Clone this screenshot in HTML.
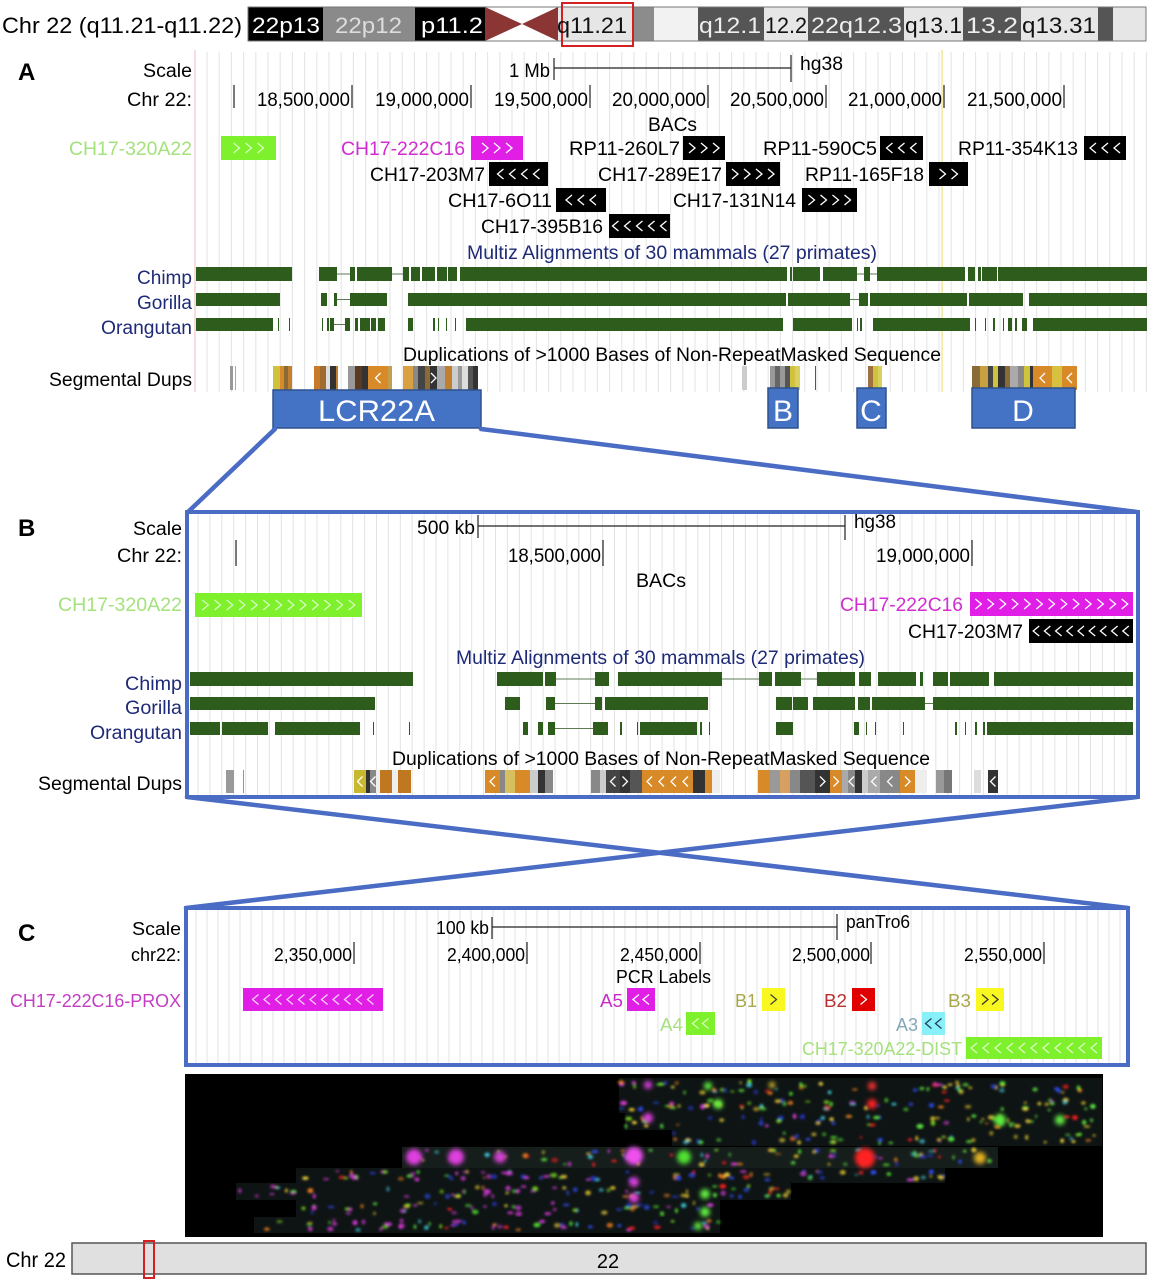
<!DOCTYPE html>
<html><head><meta charset="utf-8">
<style>
html,body{margin:0;padding:0;background:#fff;}
svg{display:block;font-family:"Liberation Sans",Arial,sans-serif;}
</style></head><body>
<svg id="s" width="1152" height="1280" viewBox="0 0 1152 1280" xmlns="http://www.w3.org/2000/svg">
<defs>
<filter id="blur" x="-50%" y="-50%" width="200%" height="200%"><feGaussianBlur stdDeviation="1.2"/></filter>
<filter id="blur2" x="-50%" y="-50%" width="200%" height="200%"><feGaussianBlur stdDeviation="2.5"/></filter>
</defs>
<rect x="0" y="0" width="1152" height="1280" fill="#fff"/>
<g id="grid"></g>
<g id="bars"></g>
<g id="boxes"></g>

<!-- Top ideogram -->
<g>
<rect x="248" y="7" width="898" height="34" fill="#e6e6e6"/>
<rect x="248" y="7" width="75" height="34" fill="#000"/>
<rect x="323" y="7" width="92" height="34" fill="#8a8a8a"/>
<rect x="415" y="7" width="70" height="34" fill="#000"/>
<rect x="485" y="7" width="73" height="34" fill="#fff"/>
<polygon points="485,7 485,41 522,24" fill="#8b3535"/>
<polygon points="558,7 558,41 522,24" fill="#8b3535"/>
<rect x="558" y="7" width="75" height="34" fill="#e6e6e6"/>
<rect x="633" y="7" width="21" height="34" fill="#8c8c8c"/>
<rect x="654" y="7" width="44" height="34" fill="#f2f2f2"/>
<rect x="698" y="7" width="66" height="34" fill="#555"/>
<rect x="764" y="7" width="44" height="34" fill="#e6e6e6"/>
<rect x="808" y="7" width="96" height="34" fill="#555"/>
<rect x="904" y="7" width="59" height="34" fill="#e6e6e6"/>
<rect x="963" y="7" width="58" height="34" fill="#555"/>
<rect x="1021" y="7" width="77" height="34" fill="#e6e6e6"/>
<rect x="1098" y="7" width="15" height="34" fill="#555"/>
<rect x="1113" y="7" width="33" height="34" fill="#e6e6e6"/>
<line x1="485" y1="7" x2="558" y2="7" stroke="#999" stroke-width="1"/>
<line x1="485" y1="41" x2="558" y2="41" stroke="#999" stroke-width="1"/>
<rect x="248" y="7" width="898" height="34" fill="none" stroke="#777" stroke-width="1"/>
<rect x="562" y="3" width="71" height="43" fill="none" stroke="#d42020" stroke-width="2"/>
<g font-size="22">
<text x="2" y="33" textLength="240" lengthAdjust="spacingAndGlyphs" fill="#000">Chr 22 (q11.21-q11.22)</text>
<text x="252" y="33" textLength="68" lengthAdjust="spacingAndGlyphs" fill="#fff">22p13</text>
<text x="335" y="33" textLength="67" lengthAdjust="spacingAndGlyphs" fill="#ddd">22p12</text>
<text x="421" y="33" textLength="62" lengthAdjust="spacingAndGlyphs" fill="#fff">p11.2</text>
<text x="557" y="33" textLength="70" lengthAdjust="spacingAndGlyphs" fill="#111">q11.21</text>
<text x="699" y="33" textLength="62" lengthAdjust="spacingAndGlyphs" fill="#eee">q12.1</text>
<text x="765" y="33" textLength="42" lengthAdjust="spacingAndGlyphs" fill="#111">12.2</text>
<text x="811" y="33" textLength="91" lengthAdjust="spacingAndGlyphs" fill="#eee">22q12.3</text>
<text x="905" y="33" textLength="57" lengthAdjust="spacingAndGlyphs" fill="#111">q13.1</text>
<text x="966" y="33" textLength="52" lengthAdjust="spacingAndGlyphs" fill="#eee">13.2</text>
<text x="1022" y="33" textLength="74" lengthAdjust="spacingAndGlyphs" fill="#111">q13.31</text>
</g>
</g>

<!-- Panel A -->
<g font-size="19" fill="#000">
<text x="18" y="80" font-size="24" font-weight="bold">A</text>
<text x="143" y="77" textLength="49" lengthAdjust="spacingAndGlyphs">Scale</text>
<text x="509" y="77" textLength="41" lengthAdjust="spacingAndGlyphs">1 Mb</text>
<text x="800" y="70" textLength="43" lengthAdjust="spacingAndGlyphs">hg38</text>
<text x="127" y="106" textLength="65" lengthAdjust="spacingAndGlyphs">Chr 22:</text>
<text x="257" y="106" textLength="93" lengthAdjust="spacingAndGlyphs">18,500,000</text>
<text x="375" y="106" textLength="94" lengthAdjust="spacingAndGlyphs">19,000,000</text>
<text x="494" y="106" textLength="94" lengthAdjust="spacingAndGlyphs">19,500,000</text>
<text x="612" y="106" textLength="94" lengthAdjust="spacingAndGlyphs">20,000,000</text>
<text x="730" y="106" textLength="94" lengthAdjust="spacingAndGlyphs">20,500,000</text>
<text x="848" y="106" textLength="94" lengthAdjust="spacingAndGlyphs">21,000,000</text>
<text x="967" y="106" textLength="95" lengthAdjust="spacingAndGlyphs">21,500,000</text>
<text x="648" y="131" textLength="49" lengthAdjust="spacingAndGlyphs">BACs</text>
<text x="69" y="155" textLength="123" lengthAdjust="spacingAndGlyphs" fill="#a4e27c">CH17-320A22</text>
<text x="341" y="155" textLength="124" lengthAdjust="spacingAndGlyphs" fill="#d22cd2">CH17-222C16</text>
<text x="569" y="155" textLength="111" lengthAdjust="spacingAndGlyphs">RP11-260L7</text>
<text x="763" y="155" textLength="114" lengthAdjust="spacingAndGlyphs">RP11-590C5</text>
<text x="958" y="155" textLength="120" lengthAdjust="spacingAndGlyphs">RP11-354K13</text>
<text x="370" y="181" textLength="115" lengthAdjust="spacingAndGlyphs">CH17-203M7</text>
<text x="598" y="181" textLength="124" lengthAdjust="spacingAndGlyphs">CH17-289E17</text>
<text x="805" y="181" textLength="119" lengthAdjust="spacingAndGlyphs">RP11-165F18</text>
<text x="448" y="207" textLength="104" lengthAdjust="spacingAndGlyphs">CH17-6O11</text>
<text x="673" y="207" textLength="123" lengthAdjust="spacingAndGlyphs">CH17-131N14</text>
<text x="481" y="233" textLength="122" lengthAdjust="spacingAndGlyphs">CH17-395B16</text>
<text x="467" y="259" textLength="410" lengthAdjust="spacingAndGlyphs" fill="#1e2a78">Multiz Alignments of 30 mammals (27 primates)</text>
<text x="137" y="284" textLength="55" lengthAdjust="spacingAndGlyphs" fill="#1e2a78">Chimp</text>
<text x="137" y="309" textLength="55" lengthAdjust="spacingAndGlyphs" fill="#1e2a78">Gorilla</text>
<text x="101" y="334" textLength="91" lengthAdjust="spacingAndGlyphs" fill="#1e2a78">Orangutan</text>
<text x="403" y="361" textLength="538" lengthAdjust="spacingAndGlyphs">Duplications of &gt;1000 Bases of Non-RepeatMasked Sequence</text>
<text x="49" y="386" textLength="143" lengthAdjust="spacingAndGlyphs">Segmental Dups</text>
</g>
<g stroke="#222" stroke-width="1.2">
<line x1="554" y1="68" x2="791" y2="68"/>
<line x1="554" y1="58" x2="554" y2="80"/>
<line x1="791" y1="55" x2="791" y2="82"/>
<line x1="234" y1="85" x2="234" y2="108"/>
<line x1="352" y1="85" x2="352" y2="108"/>
<line x1="471" y1="85" x2="471" y2="108"/>
<line x1="590" y1="85" x2="590" y2="108"/>
<line x1="708" y1="85" x2="708" y2="108"/>
<line x1="826" y1="85" x2="826" y2="108"/>
<line x1="944" y1="85" x2="944" y2="108"/>
<line x1="1064" y1="85" x2="1064" y2="108"/>
</g>

<!-- LCR boxes -->
<g fill="#4472c4" stroke="#2f528f" stroke-width="1.5">
<rect x="273" y="390" width="208" height="38"/>
<rect x="768" y="388" width="30" height="40"/>
<rect x="857" y="388" width="29" height="40"/>
<rect x="972" y="388" width="103" height="40"/>
</g>
<g fill="#fff" font-size="30">
<text x="318" y="421" textLength="117" lengthAdjust="spacingAndGlyphs">LCR22A</text>
<text x="783" y="421" text-anchor="middle">B</text>
<text x="871" y="421" text-anchor="middle">C</text>
<text x="1023" y="421" text-anchor="middle">D</text>
</g>

<!-- connectors -->
<g stroke="#4a6cc4" stroke-width="4.5" stroke-linecap="round">
<line x1="275" y1="429" x2="188" y2="512"/>
<line x1="481" y1="429" x2="1137" y2="512"/>
<line x1="187" y1="797" x2="1128" y2="908"/>
<line x1="1137" y1="797" x2="186" y2="908"/>
</g>

<!-- Panel B -->
<g font-size="19" fill="#000">
<text x="18" y="536" font-size="24" font-weight="bold">B</text>
<text x="133" y="535" textLength="49" lengthAdjust="spacingAndGlyphs">Scale</text>
<text x="417" y="534" textLength="58" lengthAdjust="spacingAndGlyphs">500 kb</text>
<text x="854" y="528" textLength="42" lengthAdjust="spacingAndGlyphs">hg38</text>
<text x="117" y="562" textLength="65" lengthAdjust="spacingAndGlyphs">Chr 22:</text>
<text x="508" y="562" textLength="93" lengthAdjust="spacingAndGlyphs">18,500,000</text>
<text x="876" y="562" textLength="94" lengthAdjust="spacingAndGlyphs">19,000,000</text>
<text x="636" y="587" textLength="50" lengthAdjust="spacingAndGlyphs">BACs</text>
<text x="58" y="611" textLength="124" lengthAdjust="spacingAndGlyphs" fill="#a4e27c">CH17-320A22</text>
<text x="840" y="611" textLength="123" lengthAdjust="spacingAndGlyphs" fill="#d22cd2">CH17-222C16</text>
<text x="908" y="638" textLength="115" lengthAdjust="spacingAndGlyphs">CH17-203M7</text>
<text x="456" y="664" textLength="409" lengthAdjust="spacingAndGlyphs" fill="#1e2a78">Multiz Alignments of 30 mammals (27 primates)</text>
<text x="125" y="690" textLength="57" lengthAdjust="spacingAndGlyphs" fill="#1e2a78">Chimp</text>
<text x="125" y="714" textLength="57" lengthAdjust="spacingAndGlyphs" fill="#1e2a78">Gorilla</text>
<text x="90" y="739" textLength="92" lengthAdjust="spacingAndGlyphs" fill="#1e2a78">Orangutan</text>
<text x="392" y="765" textLength="538" lengthAdjust="spacingAndGlyphs">Duplications of &gt;1000 Bases of Non-RepeatMasked Sequence</text>
<text x="38" y="790" textLength="144" lengthAdjust="spacingAndGlyphs">Segmental Dups</text>
</g>
<g stroke="#222" stroke-width="1.2">
<line x1="478" y1="526" x2="845" y2="526"/>
<line x1="478" y1="515" x2="478" y2="538"/>
<line x1="845" y1="515" x2="845" y2="540"/>
<line x1="236" y1="540" x2="236" y2="566"/>
<line x1="603" y1="540" x2="603" y2="566"/>
<line x1="972" y1="540" x2="972" y2="566"/>
</g>
<rect x="187" y="512" width="951" height="285" fill="none" stroke="#4a6cc4" stroke-width="4"/>

<!-- Panel C -->
<g font-size="18" fill="#000">
<text x="18" y="941" font-size="24" font-weight="bold">C</text>
<text x="132" y="935" textLength="49" lengthAdjust="spacingAndGlyphs">Scale</text>
<text x="436" y="934" textLength="53" lengthAdjust="spacingAndGlyphs">100 kb</text>
<text x="846" y="928" textLength="64" lengthAdjust="spacingAndGlyphs">panTro6</text>
<text x="131" y="961" textLength="50" lengthAdjust="spacingAndGlyphs">chr22:</text>
<text x="274" y="961" textLength="78" lengthAdjust="spacingAndGlyphs">2,350,000</text>
<text x="447" y="961" textLength="78" lengthAdjust="spacingAndGlyphs">2,400,000</text>
<text x="620" y="961" textLength="78" lengthAdjust="spacingAndGlyphs">2,450,000</text>
<text x="792" y="961" textLength="78" lengthAdjust="spacingAndGlyphs">2,500,000</text>
<text x="964" y="961" textLength="78" lengthAdjust="spacingAndGlyphs">2,550,000</text>
<text x="616" y="983" textLength="95" lengthAdjust="spacingAndGlyphs">PCR Labels</text>
<text x="10" y="1007" textLength="171" lengthAdjust="spacingAndGlyphs" fill="#c43cc4">CH17-222C16-PROX</text>
<text x="600" y="1007" textLength="23" lengthAdjust="spacingAndGlyphs" fill="#c82cc8">A5</text>
<text x="735" y="1007" textLength="22" lengthAdjust="spacingAndGlyphs" fill="#a8a84a">B1</text>
<text x="824" y="1007" textLength="23" lengthAdjust="spacingAndGlyphs" fill="#b83030">B2</text>
<text x="948" y="1007" textLength="23" lengthAdjust="spacingAndGlyphs" fill="#a8a84a">B3</text>
<text x="660" y="1031" textLength="23" lengthAdjust="spacingAndGlyphs" fill="#a4e27c">A4</text>
<text x="896" y="1031" textLength="22" lengthAdjust="spacingAndGlyphs" fill="#84a8b8">A3</text>
<text x="802" y="1055" textLength="160" lengthAdjust="spacingAndGlyphs" fill="#a4e27c">CH17-320A22-DIST</text>
</g>
<g stroke="#222" stroke-width="1.2">
<line x1="492" y1="927" x2="837" y2="927"/>
<line x1="492" y1="917" x2="492" y2="939"/>
<line x1="837" y1="914" x2="837" y2="940"/>
<line x1="354" y1="942" x2="354" y2="964"/>
<line x1="527" y1="942" x2="527" y2="964"/>
<line x1="700" y1="942" x2="700" y2="964"/>
<line x1="871" y1="942" x2="871" y2="964"/>
<line x1="1044" y1="942" x2="1044" y2="964"/>
</g>
<rect x="186" y="908" width="942" height="157" fill="none" stroke="#4a6cc4" stroke-width="4"/>

<!-- microscopy -->
<rect x="185" y="1074" width="918" height="163" fill="#000"/>
<g id="fibers"></g>

<!-- bottom chromosome -->
<text x="6" y="1267" font-size="21" textLength="60" lengthAdjust="spacingAndGlyphs">Chr 22</text>
<rect x="72" y="1243" width="1074" height="31" fill="#e0e0e0" stroke="#555" stroke-width="1.5"/>
<text x="608" y="1268" font-size="20" text-anchor="middle">22</text>
<rect x="144" y="1241" width="10" height="37" fill="none" stroke="#d42020" stroke-width="2"/>

<g id="chev"></g>
</svg>
<script>
(function(){
var NS='http://www.w3.org/2000/svg';
function el(tag,a,p){var e=document.createElementNS(NS,tag);for(var k in a)e.setAttribute(k,a[k]);p.appendChild(e);return e;}
var G=document.getElementById('grid'),B=document.getElementById('bars'),X=document.getElementById('boxes'),C=document.getElementById('chev'),F=document.getElementById('fibers');
var x;
for(x=207;x<1148;x+=12.2) el('line',{x1:x,y1:52,x2:x,y2:392,stroke:'#e3e3e3','stroke-width':1},G);
el('line',{x1:195,y1:50,x2:195,y2:392,stroke:'#f3c4cc','stroke-width':1.2},G);
el('line',{x1:942,y1:50,x2:942,y2:392,stroke:'#f6eeaa','stroke-width':2},G);
for(x=198;x<1136;x+=11.9) el('line',{x1:x,y1:514,x2:x,y2:796,stroke:'#e3e3e3','stroke-width':1},G);
for(x=196;x<1126;x+=11) el('line',{x1:x,y1:910,x2:x,y2:1063,stroke:'#e3e3e3','stroke-width':1},G);

function chev(cx,cy,dir,col,hh,hw){hh=hh||5;hw=hw||3;
 var p=dir>0?(cx-hw)+','+(cy-hh)+' '+(cx+hw)+','+cy+' '+(cx-hw)+','+(cy+hh):(cx+hw)+','+(cy-hh)+' '+(cx-hw)+','+cy+' '+(cx+hw)+','+(cy+hh);
 el('polyline',{points:p,fill:'none',stroke:col,'stroke-width':1.3},C);}
function box(x1,x2,y,h,fill,n,dir,col,sp){sp=sp||12;
 el('rect',{x:x1,y:y,width:x2-x1,height:h,fill:fill},X);
 var cy=y+h/2,st=(x1+x2)/2-(n-1)*sp/2;
 for(var i=0;i<n;i++)chev(st+i*sp,cy,dir,col);}
var GR='#7ef02c',MG='#e01ee6',BK='#000',W='#fff',LG='#d8ffc0';
box(221,276,136,24,GR,3,1,LG);
box(471,523,136,24,MG,3,1,W);
box(683,725,136,24,BK,3,1,W);
box(880,923,136,24,BK,3,-1,W);
box(1084,1126,136,24,BK,3,-1,W);
box(489,548,162,24,BK,4,-1,W);
box(726,780,162,24,BK,4,1,W);
box(929,968,162,24,BK,2,1,W);
box(556,606,188,24,BK,3,-1,W);
box(802,857,188,24,BK,4,1,W);
box(609,670,214,24,BK,5,-1,W);
box(195,362,593,24,GR,13,1,LG,12.2);
box(970,1133,592,24,MG,13,1,W,12.2);
box(1029,1133,619,24,BK,9,-1,W,11.2);
box(243,383,988,23,MG,11,-1,'#fbd0fb',11.5);
box(627,655,988,23,MG,2,-1,W,10);
box(762,785,988,23,'#f8f820',1,1,'#444');
box(852,875,988,23,'#e00000',1,1,W);
box(976,1004,988,23,'#f8f820',2,1,'#333',10);
box(686,715,1012,23,GR,2,-1,LG,10);
box(922,945,1012,23,'#88f0f8',2,-1,'#204060',10);
box(966,1102,1037,22,GR,11,-1,LG,12);

var AG='#2e5c1c';
function row(y,h,items){items.forEach(function(it){
 if(it[2]==='l') el('line',{x1:it[0],y1:y+h/2,x2:it[1],y2:y+h/2,stroke:'#5e7a54','stroke-width':1},B);
 else el('rect',{x:it[0],y:y,width:Math.max(1,it[1]-it[0]),height:h,fill:AG},B);});}
row(267,14,[[196,292],[319,337],[337,350,'l'],[350,355],[357,392],[392,403,'l'],[403,409],[411,420],[422,435],[437,447],[448,457],[460,787],[790,792],[793,820],[823,857],[857,864,'l'],[864,870],[870,877,'l'],[877,965],[968,975],[978,981],[982,997],[998,1147]]);
row(293,13,[[196,280],[321,327],[334,337],[337,350,'l'],[350,387],[408,786],[788,850],[850,859,'l'],[859,868],[870,967],[969,1023],[1029,1147]]);
row(318,13,[[196,273],[278,279],[289,290],[322,323],[327,329],[330,334],[334,345,'l'],[345,350],[355,358],[360,370],[371,376],[378,385],[408,413],[433,435],[438,439],[446,447],[455,456],[466,783],[793,852],[857,858],[860,862],[873,970],[975,976],[985,986],[993,995],[1003,1004],[1008,1012],[1015,1017],[1022,1027],[1033,1147]]);
row(672,14,[[190,413],[497,543],[545,556],[556,595,'l'],[595,609],[618,722],[722,759,'l'],[759,772],[775,801],[801,817,'l'],[817,855],[859,871],[878,916],[920,923],[933,948],[950,989],[994,1133]]);
row(697,13,[[190,375],[505,520],[546,555],[555,595,'l'],[595,602],[605,708],[776,792],[793,808],[813,855],[858,870],[872,925],[925,933,'l'],[933,1133]]);
row(722,13,[[190,220],[222,268],[275,360],[373,374],[409,410],[523,528],[538,543],[548,555],[555,593,'l'],[593,608],[620,622],[637,638],[640,697],[700,702],[709,710],[776,793],[854,859],[866,867],[875,876],[903,904],[955,957],[965,966],[975,977],[983,985],[987,1133]]);

function seg(y,h,items){items.forEach(function(it){
 el('rect',{x:it[0],y:y,width:it[1]-it[0],height:h,fill:it[2]},B);
 if(it[3]){var n=it[3].length,w=it[1]-it[0],sp=Math.min(12,w/n);for(var i=0;i<n;i++){chev(it[0]+w/2+(i-(n-1)/2)*sp,y+h/2,it[3][i]==='>'?1:-1,'#fff',5,2.5);}}});}
var O='#d98a28',Y='#cfc23c',BR='#8a6a36';
seg(366,24,[[230,233,'#999'],[235,236,'#aaa'],[273,280,Y],[280,284,O],[284,288,BR],[288,292,'#c08030'],
[314,320,'#c87a28'],[320,326,'#a06a30'],[326,330,'#ddd'],[330,336,'#333'],[336,338,'#c08030'],
[348,355,'#999'],[355,362,'#5a3a20'],[362,368,'#333'],[368,388,O,'<'],[388,392,'#c0a050'],
[403,413,'#d8a040'],[413,418,'#888'],[418,425,'#444'],[425,430,BR],[430,437,'#333','>'],[437,445,'#aaa'],[445,452,'#c08030'],[452,458,'#ccc'],[458,462,'#999'],[462,468,'#ddd'],[468,473,'#555'],[473,478,'#333'],
[742,747,'#ccc'],[770,775,'#999'],[775,780,'#666'],[780,785,'#999'],[785,790,'#555'],[790,795,Y],[795,800,'#d8d060'],[815,816,'#555'],
[868,873,'#a07040'],[873,878,Y],[878,882,'#d8d060'],
[972,980,BR],[980,988,'#c8a040'],[988,993,'#444'],[993,998,Y],[998,1005,'#333'],[1005,1010,BR],[1010,1018,'#aaa'],[1018,1024,'#888'],[1024,1030,Y],[1030,1033,'#333'],[1033,1052,O,'<'],[1052,1062,'#d8c040'],[1062,1077,O,'<']]);
seg(770,23,[[226,234,'#999'],[243,244,'#d08a30'],[354,366,'#c8b830','<'],[366,370,'#333'],[370,376,'#888','<'],[376,380,'#eee'],[380,392,'#c07820'],[392,398,'#eee'],[398,411,'#c07820'],
[485,500,O,'<'],[500,505,'#888'],[505,515,'#d8c060'],[515,530,O],[530,538,'#ccc'],[538,545,'#333'],[545,553,'#888'],
[591,600,'#888'],[600,606,'#ccc'],[606,620,'#444','<'],[620,630,'#333','>'],[630,642,'#555'],[642,693,O,'<<<<'],[693,705,'#333'],[705,712,O],[712,720,'#eee'],
[758,770,O],[770,780,'#999'],[780,790,'#d8a060'],[790,800,'#888'],[800,815,'#555'],[815,830,'#333','>'],[830,842,O,'>'],[842,848,'#aaa'],[848,855,'#888','<'],[855,862,'#333'],[862,868,'#ccc'],[868,880,'#aaa','<'],[880,900,'#888','<'],[900,915,O,'>'],[915,927,'#eee'],
[936,944,'#999'],[944,952,'#777'],[974,981,'#ddd'],[988,998,'#333','<']]);

var seed=12345;function rnd(){seed=(seed*1103515245+12345)&0x7fffffff;return seed/0x7fffffff;}
var strips=[[619,1102,1078,1097],[619,1102,1097,1113],[625,1102,1113,1130],[672,1102,1130,1146],[402,998,1147,1168],[296,945,1168,1183],[236,791,1183,1200],[296,720,1200,1217],[254,720,1217,1233]];
var cols=['#3050ff','#2838d0','#50e030','#60f040','#80e020','#e040e0','#ff2020','#f0d030','#ffe040','#40d0e0','#f08020'];
strips.forEach(function(s,i){
 el('rect',{x:s[0],y:s[2],width:s[1]-s[0],height:s[3]-s[2],fill:i===4?'#161e1c':'#0e1414'},F);
 var g=el('g',{filter:'url(#blur)'},F);
 var n=Math.floor((s[1]-s[0])/8);
 for(var k=0;k<n;k++){var cx=s[0]+rnd()*(s[1]-s[0]),cy=s[2]+3+rnd()*(s[3]-s[2]-6);
  var c=cols[Math.floor(rnd()*cols.length)];
  if(cx<560&&rnd()<0.5)c='#d838d8';
  if(cx>950&&rnd()<0.5)c=rnd()<0.5?'#60f040':'#e8d030';
  el('ellipse',{cx:cx,cy:cy,rx:1.2+rnd()*2.4,ry:1+rnd()*1.6,fill:c,opacity:0.55+rnd()*0.4},g);}
});
var g2=el('g',{filter:'url(#blur2)'},F);
[[414,1157,8,'#e040e0'],[456,1157,8,'#e040e0'],[500,1157,6,'#d040d0'],[634,1156,9,'#f050f0'],[684,1157,7,'#50e030'],[865,1158,10,'#ff2020'],[980,1158,6,'#e0b020'],[648,1085,4,'#e040e0'],[648,1118,5,'#e040e0'],[872,1086,4,'#ff3030'],[872,1104,5,'#ff2020'],[708,1086,4,'#60f040'],[718,1104,5,'#60f040'],[772,1085,3,'#f0d030'],[1000,1120,6,'#60f040'],[1060,1120,5,'#60f040'],[634,1182,5,'#e040e0'],[634,1198,5,'#e040e0'],[705,1194,5,'#60f040'],[705,1212,5,'#60f040'],[698,1226,4,'#60f040']].forEach(function(d){
 el('circle',{cx:d[0],cy:d[1],r:d[2],fill:d[3]},g2);});
})();
</script>
</body></html>
